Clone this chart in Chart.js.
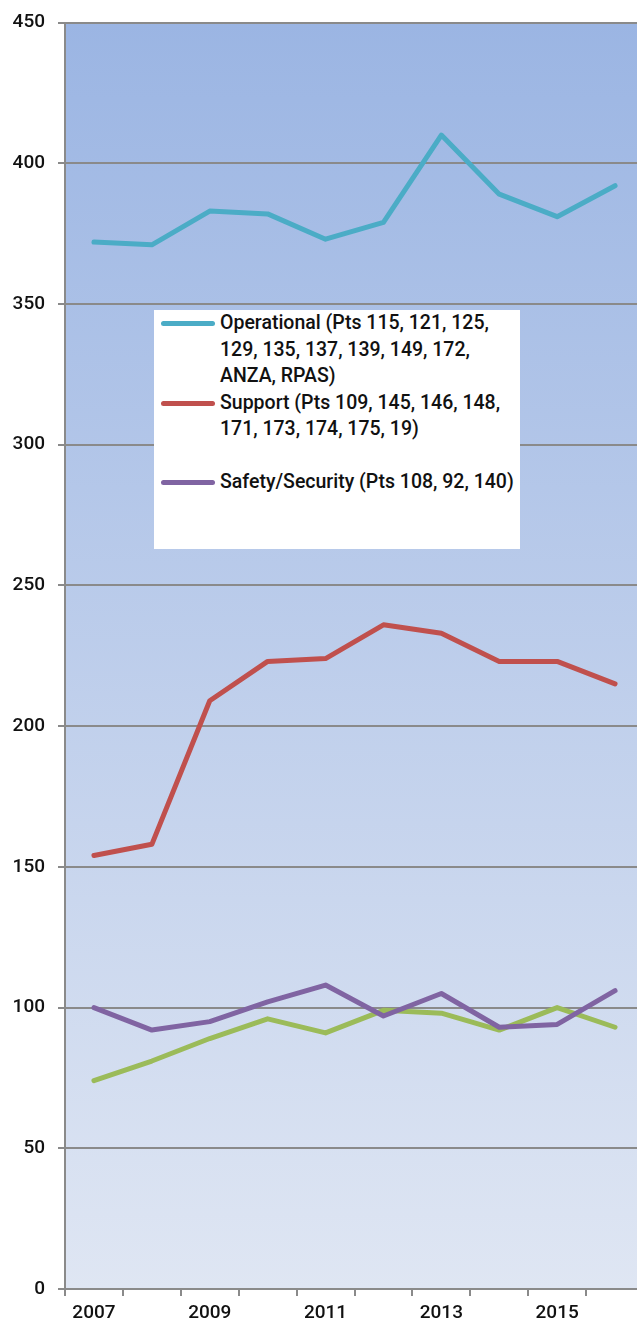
<!DOCTYPE html>
<html>
<head>
<meta charset="utf-8">
<script src="https://cdn.jsdelivr.net/npm/chart.js@4/dist/chart.umd.min.js"></script>
<style>
  html, body { margin: 0; padding: 0; background: #fff; overflow: hidden; }
  #wrap { position: absolute; left: 0; top: 0; width: 644px; height: 1325px; }
  #legend {
    position: absolute; left: 154px; top: 310px; width: 366px; height: 239px;
    background: #fff; font-family: Roboto, "Liberation Sans", Arial, sans-serif;
    font-weight: 500; font-size: 19.5px; line-height: 26.5px; color: #111;
  }
  .item { position: absolute; left: 66px; width: 300px; }
  .swatch { position: absolute; left: -59px; top: 11px; width: 54px; height: 5px; border-radius: 3px; }
</style>
</head>
<body>
<div id="wrap">
  <canvas id="chart" width="644" height="1325"></canvas>
  <div id="legend"></div>
</div>
<script>
const years = ['2007', '2008', '2009', '2010', '2011', '2012', '2013', '2014', '2015', '2016'];
const operational = [372, 371, 383, 382, 373, 379, 410, 389, 381, 392];
const support = [154, 158, 209, 223, 224, 236, 233, 223, 223, 215];
const safety = [100, 92, 95, 102, 108, 97, 105, 93, 94, 106];
const other = [74, 81, 89, 96, 91, 99, 98, 92, 100, 93];

const seriesNames = [
  'Operational (Pts 115, 121, 125, 129, 135, 137, 139, 149, 172, ANZA, RPAS)',
  'Support (Pts 109, 145, 146, 148, 171, 173, 174, 175, 19)',
  'Safety/Security (Pts 108, 92, 140)',
  'Other'
];
const colors = ['#4BACC6', '#C0504D', '#8064A2', '#9BBB59'];
const legendRows = [0, 3, 6]; // line index where each legend entry starts

const yTicks = [0, 50, 100, 150, 200, 250, 300, 350, 400, 450];

const tickFont = { family: 'Roboto, "Liberation Sans", Arial, sans-serif', size: 19, weight: '500', lineHeight: 1 };

const bgPlugin = {
  id: 'plotBg',
  beforeDraw(chart) {
    const { ctx, chartArea: a } = chart;
    const g = ctx.createLinearGradient(0, a.top, 0, a.bottom);
    g.addColorStop(0, '#9BB5E3');
    g.addColorStop(1, '#DFE6F3');
    ctx.save();
    ctx.fillStyle = g;
    ctx.fillRect(a.left, a.top, a.right - a.left, a.bottom - a.top);
    ctx.restore();
  }
};

const allSeries = [operational, support, safety, other];

new Chart(document.getElementById('chart'), {
  type: 'line',
  data: {
    labels: years,
    datasets: allSeries.map((d, i) => ({
      label: seriesNames[i],
      data: d,
      borderColor: colors[i],
      backgroundColor: colors[i],
      borderWidth: 5,
      pointRadius: 0,
      tension: 0,
      borderCapStyle: 'round',
      borderJoinStyle: 'round'
    }))
  },
  options: {
    responsive: false,
    animation: false,
    layout: { padding: { top: 18, right: 0, left: 0, bottom: 0 } },
    plugins: { legend: { display: false }, tooltip: { enabled: false } },
    scales: {
      x: {
        type: 'category',
        offset: true,
        grid: { offset: true, drawOnChartArea: false, tickLength: 7, color: '#8a8a8a', lineWidth: 2 },
        border: { color: '#8a8a8a', width: 2 },
        ticks: {
          autoSkip: false, maxRotation: 0, padding: 8, color: '#111',
          font: tickFont,
          callback: (v, i) => (i % 2 === 0 ? years[i] : '')
        },
        afterFit: s => { s.height = 36; }
      },
      y: {
        min: 0, max: 450,
        afterBuildTicks: s => { s.ticks = yTicks.map(v => ({ value: v })); },
        grid: { color: '#8a8a8a', lineWidth: 2, tickLength: 7 },
        border: { color: '#8a8a8a', width: 2 },
        ticks: { padding: 13, color: '#111', font: tickFont },
        afterFit: s => { s.width = 65; }
      }
    }
  },
  plugins: [bgPlugin]
});

// HTML legend for the first three series
const legend = document.getElementById('legend');
legendRows.forEach((row, i) => {
  const item = document.createElement('div');
  item.className = 'item';
  item.style.top = (row * 26.5) + 'px';
  item.textContent = seriesNames[i];
  const sw = document.createElement('div');
  sw.className = 'swatch';
  sw.style.background = colors[i];
  item.appendChild(sw);
  legend.appendChild(item);
});
</script>
</body>
</html>
